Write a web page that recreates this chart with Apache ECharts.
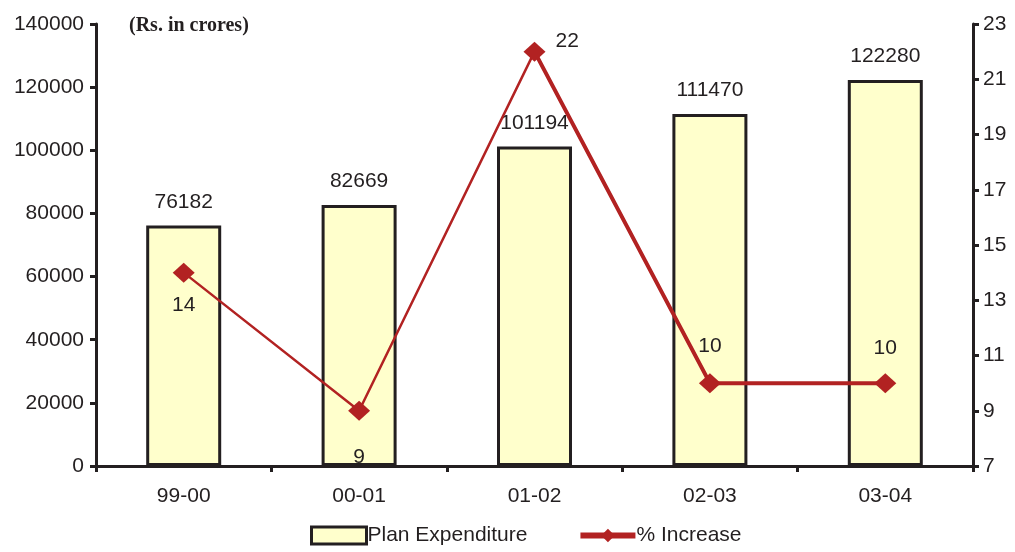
<!DOCTYPE html>
<html><head><meta charset="utf-8">
<script src="https://cdn.jsdelivr.net/npm/echarts@6/dist/echarts.min.js"></script>
<style>html,body{margin:0;padding:0;background:#fff}#c{width:1015px;height:552px}</style>
</head><body><div id="c"></div>
<script>
const categories = ['99-00', '00-01', '01-02', '02-03', '03-04'];
const planExpenditure = [76182, 82669, 101194, 111470, 122280];
const pctIncrease = [14, 9, 22, 10, 10];
const leftTicks = [0, 20000, 40000, 60000, 80000, 100000, 120000, 140000];
const rightTicks = [7, 9, 11, 13, 15, 17, 19, 21, 23];

const dark = '#231f20';
const red = '#b22222';
const font = 'Liberation Sans, Arial, sans-serif';
const fs = 21;
const lblPos = [
  {position: 'bottom', distance: 12},
  {position: 'bottom', distance: 26},
  {position: 'right', distance: 10, offset: [0, -10]},
  {position: 'top', distance: 16},
  {position: 'top', distance: 14}
];

const chart = echarts.init(document.getElementById('c'));
chart.setOption({
  animation: false,
  grid: {left: 96, right: 42, top: 24, bottom: 86},
  graphic: [{type: 'text', left: 129, top: 16, style: {text: '(Rs. in crores)', font: 'bold 20px "Liberation Serif", "Times New Roman", serif', fill: dark}}],
  legend: {
    left: 305, bottom: 1, itemWidth: 55, itemHeight: 17, itemGap: 50,
    textStyle: {fontFamily: font, fontSize: fs, color: dark, padding: [0,0,0,-4]},
    data: [
      {name: 'Plan Expenditure', icon: 'rect', itemStyle: {color: '#ffffcc', borderColor: dark, borderWidth: 3}},
      {name: '% Increase', lineStyle: {width: 6, color: red}}
    ]
  },
  xAxis: {
    type: 'category', data: categories,
    axisLine: {lineStyle: {color: dark, width: 3}},
    axisTick: {show: true, length: 6, lineStyle: {color: dark, width: 3}},
    axisLabel: {fontFamily: font, fontSize: fs, color: dark, margin: 20}
  },
  yAxis: [
    {type: 'value', min: leftTicks[0], max: leftTicks[leftTicks.length-1], interval: 20000,
     axisLine: {show: true, lineStyle: {color: dark, width: 3}},
     axisTick: {show: true, length: 6, lineStyle: {color: dark, width: 3}},
     splitLine: {show: false},
     axisLabel: {fontFamily: font, fontSize: fs, color: dark, margin: 12, formatter: v => String(v)}},
    {type: 'value', min: rightTicks[0], max: rightTicks[rightTicks.length-1], interval: 2,
     position: 'right',
     axisLine: {show: true, lineStyle: {color: dark, width: 3}},
     axisTick: {show: true, length: 6, lineStyle: {color: dark, width: 3}},
     splitLine: {show: false},
     axisLabel: {fontFamily: font, fontSize: fs, color: dark, margin: 10}}
  ],
  series: [
    {name: 'Plan Expenditure', type: 'bar', data: planExpenditure, barWidth: 75,
     itemStyle: {color: '#ffffcc', borderColor: dark, borderWidth: 3},
     label: {show: true, position: 'top', distance: 13, fontFamily: font, fontSize: fs, color: dark}},
    {name: '% Increase-thick', type: 'line', yAxisIndex: 1, silent: true,
     data: pctIncrease.map((v, i) => i >= 2 ? v : '-'), showSymbol: false,
     lineStyle: {color: red, width: 4}, itemStyle: {color: red}, z: 3},
    {name: '% Increase', type: 'line', yAxisIndex: 1,
     data: pctIncrease.map((v, i) => ({value: v, label: lblPos[i]})),
     symbol: 'diamond', symbolSize: [22, 20],
     lineStyle: {color: red, width: 2.5}, itemStyle: {color: red},
     label: {show: true, fontFamily: font, fontSize: fs, color: dark}, z: 4}
  ]
});
</script></body></html>
